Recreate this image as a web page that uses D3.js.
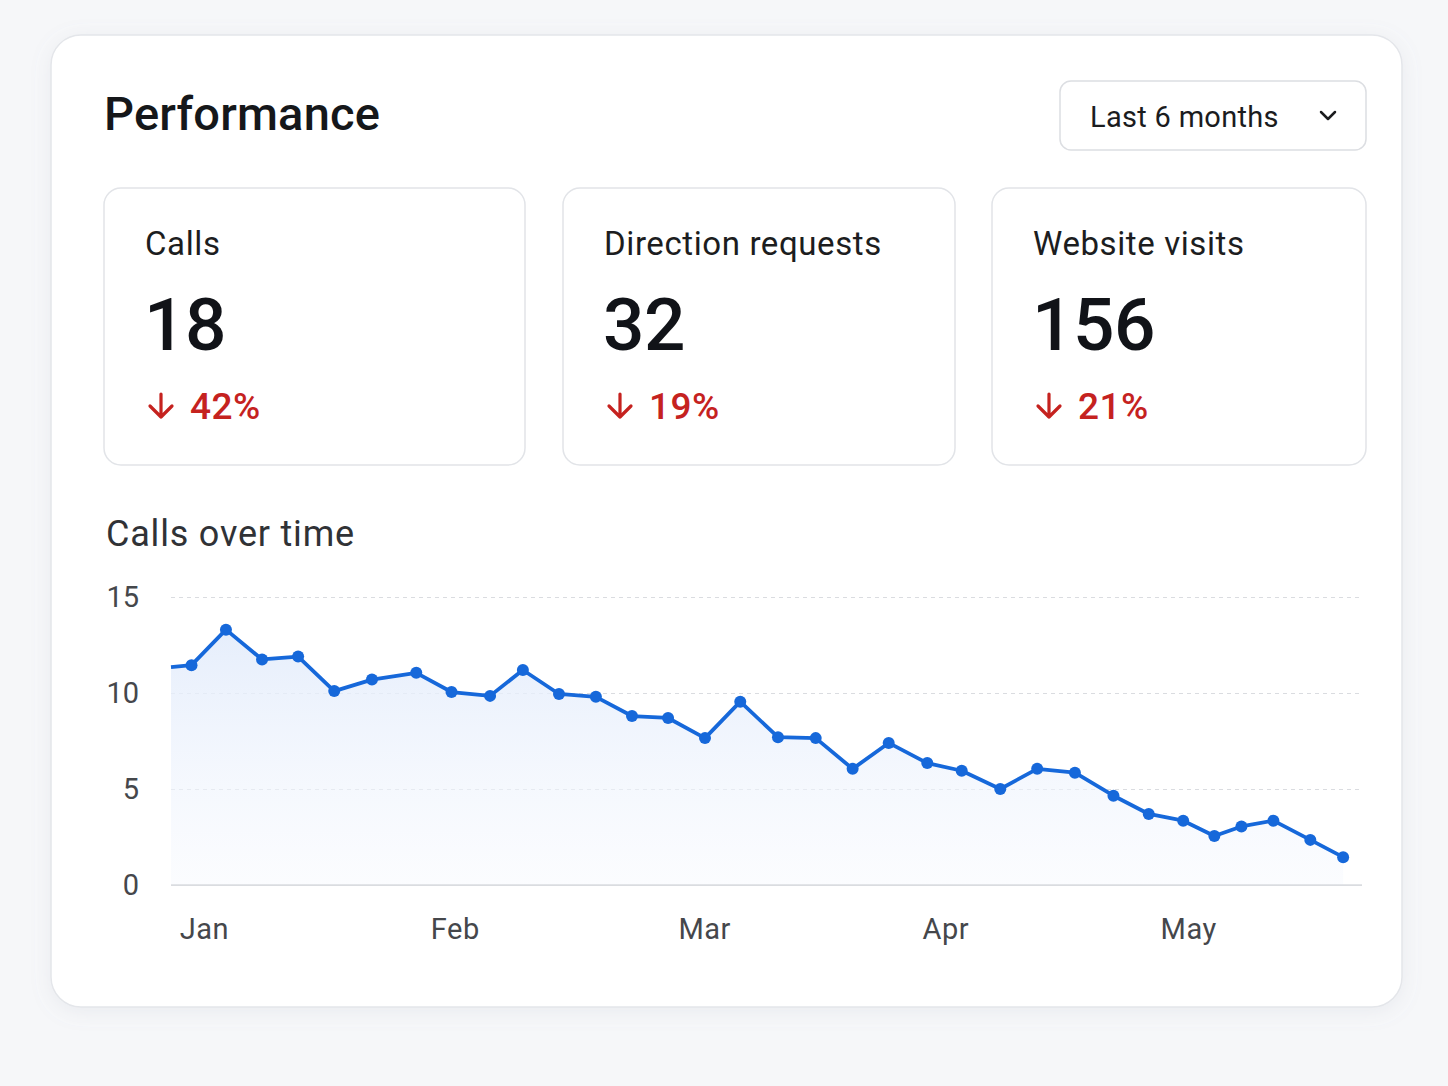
<!DOCTYPE html>
<html>
<head>
<meta charset="utf-8">
<script src="https://cdn.jsdelivr.net/npm/d3@7"></script>
<style>
  html, body { margin: 0; padding: 0; background: #f6f7f9; }
  svg { display: block; font-family: "Roboto", "Noto Sans", sans-serif; }
</style>
</head>
<body>
<svg id="chart" width="1448" height="1086"></svg>
<script>
// kpi tiles
var kpiLabels = ["Calls", "Direction requests", "Website visits"];
var kpiValues = [18, 32, 156];
var kpiChanges = [42, 19, 21];

// calls over time: day offset from Jan 1, value
var callDays = [-4, -1.5, 2.7, 7.1, 11.5, 15.9, 20.5, 25.9, 30.2, 34.9, 38.9, 43.3,
  47.8, 52.2, 56.6, 61.1, 65.4, 70, 74.6, 79.1, 83.5, 88.2, 92.4, 97.1, 101.6,
  106.2, 110.9, 115.2, 119.4, 123.2, 126.5, 130.4, 134.9, 138.9];
var callValues = [11.35, 11.45, 13.3, 11.75, 11.9, 10.1, 10.7, 11.05, 10.05, 9.85,
  11.2, 9.95, 9.8, 8.8, 8.7, 7.65, 9.55, 7.7, 7.65, 6.05, 7.4, 6.35, 5.95, 5.0,
  6.05, 5.85, 4.65, 3.7, 3.35, 2.55, 3.05, 3.35, 2.35, 1.45];

var monthLabels = ["Jan", "Feb", "Mar", "Apr", "May"];
var monthDays = [0, 30.6, 61, 90.4, 120];
var yTicks = [0, 5, 10, 15];

var svg = d3.select("#chart");

var defs = svg.append("defs");
var shadow = defs.append("filter").attr("id", "shadow")
  .attr("x", "-10%").attr("y", "-10%").attr("width", "120%").attr("height", "120%");
shadow.append("feDropShadow").attr("dx", 0).attr("dy", 4).attr("stdDeviation", 10)
  .attr("flood-color", "#8a94a6").attr("flood-opacity", 0.12);

var grad = defs.append("linearGradient").attr("id", "areaFill")
  .attr("x1", 0).attr("y1", 0).attr("x2", 0).attr("y2", 1);
grad.append("stop").attr("offset", "0%").attr("stop-color", "#e3ecfb").attr("stop-opacity", 0.9);
grad.append("stop").attr("offset", "100%").attr("stop-color", "#f5f8fe").attr("stop-opacity", 0.4);

// outer card
svg.append("rect")
  .attr("x", 51).attr("y", 35).attr("width", 1351).attr("height", 972)
  .attr("rx", 30).attr("fill", "#fff")
  .attr("stroke", "#e4e6ea").attr("stroke-width", 1.5)
  .attr("filter", "url(#shadow)");

svg.append("text")
  .attr("x", 104).attr("y", 130)
  .attr("font-size", 47).attr("font-weight", 500).attr("fill", "#15171a")
  .attr("letter-spacing", 0.2)
  .text("Performance");

// dropdown
var dd = svg.append("g");
dd.append("rect")
  .attr("x", 1060).attr("y", 81).attr("width", 306).attr("height", 69)
  .attr("rx", 11).attr("fill", "#fff").attr("stroke", "#dcdee2").attr("stroke-width", 1.5);
dd.append("text")
  .attr("x", 1090).attr("y", 127)
  .attr("font-size", 29).attr("fill", "#1b1c1e").attr("letter-spacing", 0.3)
  .text("Last 6 months");
dd.append("path")
  .attr("d", "M1321,112 L1328,119 L1335,112")
  .attr("fill", "none").attr("stroke", "#1b1c1e").attr("stroke-width", 2.5)
  .attr("stroke-linecap", "round").attr("stroke-linejoin", "round");

// kpi tiles
var tileX = [104, 563, 992];
var tileW = [421, 392, 374];

var tiles = svg.selectAll("g.tile")
  .data(kpiLabels)
  .enter().append("g")
  .attr("class", "tile")
  .attr("transform", function(d, i) { return "translate(" + tileX[i] + ",188)"; });

tiles.append("rect")
  .attr("width", function(d, i) { return tileW[i]; })
  .attr("height", 277).attr("rx", 17)
  .attr("fill", "#fff").attr("stroke", "#e2e4e8").attr("stroke-width", 1.5);

tiles.append("text")
  .attr("x", 41).attr("y", 67)
  .attr("font-size", 33).attr("fill", "#1c1d20").attr("letter-spacing", 0.6)
  .text(function(d) { return d; });

tiles.append("text")
  .attr("x", 40).attr("y", 162)
  .attr("font-size", 73).attr("font-weight", 500).attr("fill", "#111318")
  .attr("letter-spacing", -0.5)
  .text(function(d, i) { return kpiValues[i]; });

// down arrow + change
tiles.append("path")
  .attr("d", "M57,206 L57,229 M46,218 L57,229 L68,218")
  .attr("fill", "none").attr("stroke", "#c5221f").attr("stroke-width", 3.2)
  .attr("stroke-linecap", "round").attr("stroke-linejoin", "round");

tiles.append("text")
  .attr("x", 86).attr("y", 231)
  .attr("font-size", 37).attr("font-weight", 500).attr("fill", "#c5221f")
  .attr("letter-spacing", 0.5)
  .text(function(d, i) { return kpiChanges[i] + "%"; });

svg.append("text")
  .attr("x", 106).attr("y", 546)
  .attr("font-size", 36).attr("fill", "#303236").attr("letter-spacing", 0.8)
  .text("Calls over time");

// line chart
var x = d3.scaleLinear().domain([-4, 141.2]).range([171, 1362]);
var y = d3.scaleLinear().domain([0, 15]).range([885, 597]);

var points = callDays.map(function(d, i) { return { day: d, value: callValues[i] }; });

var yAxis = svg.append("g")
  .attr("transform", "translate(171,0)")
  .call(d3.axisLeft(y).tickValues(yTicks).tickSize(-(1362 - 171)).tickPadding(32));
yAxis.select(".domain").remove();
yAxis.selectAll(".tick line")
  .attr("stroke", "#dadce0").attr("stroke-width", 1.2)
  .attr("stroke-dasharray", function(d) { return d === 0 ? null : "4,4"; });
yAxis.selectAll(".tick text")
  .attr("font-size", 29).attr("fill", "#45474b").attr("font-family", "Roboto, sans-serif");

svg.append("path")
  .datum(points)
  .attr("fill", "url(#areaFill)")
  .attr("d", d3.area()
    .x(function(d) { return x(d.day); })
    .y0(y(0))
    .y1(function(d) { return y(d.value); }));

// redraw the baseline over the fill
svg.append("line")
  .attr("x1", x(-4)).attr("x2", 1362)
  .attr("y1", y(0)).attr("y2", y(0))
  .attr("stroke", "#dadce0").attr("stroke-width", 1.5);

svg.append("path")
  .datum(points)
  .attr("fill", "none").attr("stroke", "#1668da").attr("stroke-width", 3.8)
  .attr("stroke-linejoin", "round")
  .attr("d", d3.line()
    .x(function(d) { return x(d.day); })
    .y(function(d) { return y(d.value); }));

svg.selectAll("circle.pt")
  .data(points.slice(1))
  .enter().append("circle")
  .attr("class", "pt")
  .attr("cx", function(d) { return x(d.day); })
  .attr("cy", function(d) { return y(d.value); })
  .attr("r", 6)
  .attr("fill", "#1668da");

var xAxis = svg.append("g")
  .attr("transform", "translate(0,885)")
  .call(d3.axisBottom(x).tickValues(monthDays).tickSize(0).tickPadding(33)
    .tickFormat(function(d, i) { return monthLabels[i]; }));
xAxis.select(".domain").remove();
xAxis.selectAll(".tick text")
  .attr("font-size", 29).attr("fill", "#45474b").attr("font-family", "Roboto, sans-serif")
  .attr("letter-spacing", 0.5);
</script>
</body>
</html>
